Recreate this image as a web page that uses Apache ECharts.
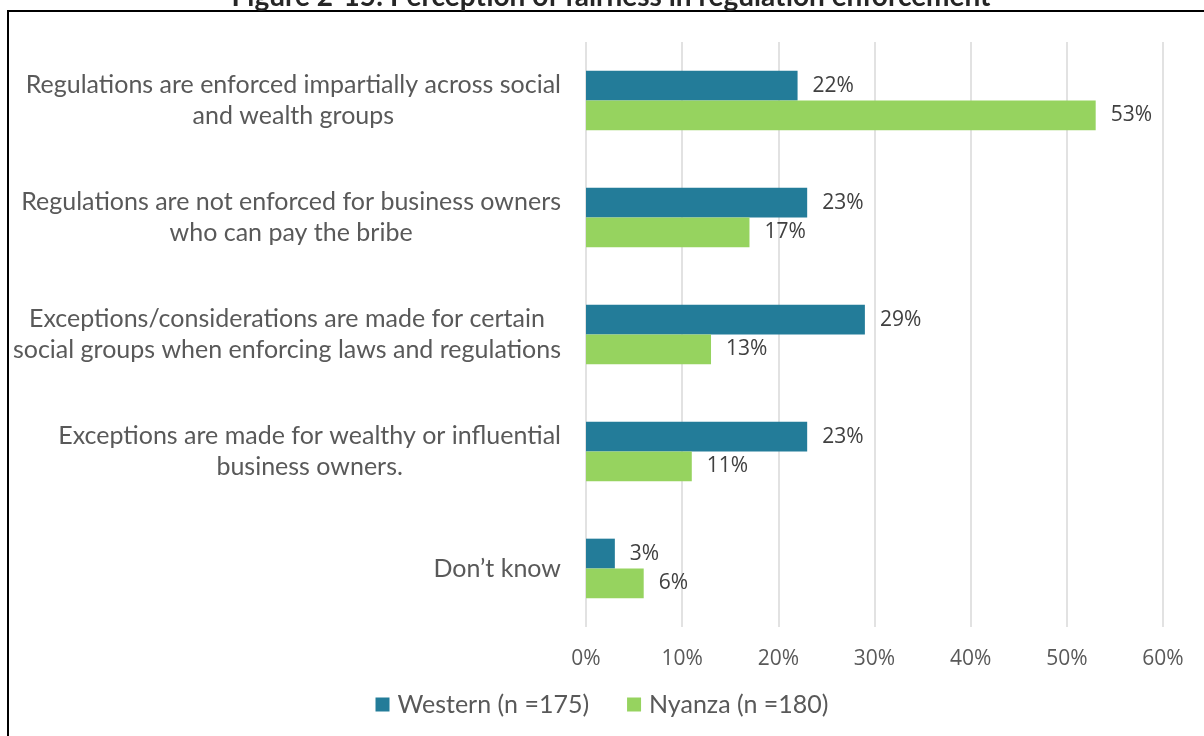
<!DOCTYPE html>
<html>
<head>
<meta charset="utf-8">
<script src="https://cdn.jsdelivr.net/npm/echarts@6/dist/echarts.min.js"></script>
<style>
  html, body { margin: 0; padding: 0; background: #fff; }
  #chart { width: 1204px; height: 736px; }
</style>
</head>
<body>
<div id="chart"></div>
<script>
// Survey statements (top to bottom)
const categories = [
  "Regulations are enforced impartially across social\nand wealth groups",
  "Regulations are not enforced for business owners\nwho can pay the bribe",
  "Exceptions/considerations are made for certain\nsocial groups when enforcing laws and regulations",
  "Exceptions are made for wealthy or influential\nbusiness owners.",
  "Don\u2019t know"
];
const seriesNames = ["Western (n =175)", "Nyanza (n =180)"];
const western = [22, 23, 29, 23, 3];
const nyanza = [53, 17, 13, 11, 6];
const titleText = "Figure 2-15: Perception of fairness in regulation enforcement";

const labelFont = "Lato, 'Open Sans', sans-serif";
const numFont = "'Open Sans', Lato, sans-serif";

const chart = echarts.init(document.getElementById('chart'));
chart.setOption({
  animation: false,
  backgroundColor: '#ffffff',
  color: ['#237C99', '#96D35F'],
  graphic: [
    {
      type: 'rect',
      shape: { x: 8, y: 11, width: 1400, height: 900 },
      style: { fill: 'none', stroke: '#000', lineWidth: 2 },
      silent: true
    },
    {
      // title sits above the frame, mostly outside the page top
      type: 'text',
      x: 611,
      y: -17,
      style: {
        text: titleText,
        font: "bold 28px " + labelFont,
        fill: '#262626',
        textAlign: 'center'
      }
    }
  ],
  grid: { left: 586, right: 41, top: 42, bottom: 109, containLabel: false },
  legend: {
    bottom: 14,
    left: 'center',
    itemWidth: 14,
    itemHeight: 14,
    itemGap: 38,
    icon: 'rect',
    textStyle: { fontFamily: labelFont, fontSize: 25, color: '#595959', padding: [0, 0, 0, 3] },
    data: seriesNames
  },
  xAxis: {
    type: 'value',
    min: 0, max: 60, interval: 10,
    axisLine: { show: false },
    axisTick: { show: false },
    splitLine: { lineStyle: { color: '#D9D9D9', width: 1.5 } },
    axisLabel: {
      formatter: '{value}%',
      margin: 22,
      fontFamily: numFont,
      fontSize: 21,
      color: '#595959'
    }
  },
  yAxis: {
    type: 'category',
    inverse: true,
    data: categories,
    axisLine: { show: false },
    axisTick: { show: false },
    axisLabel: {
      margin: 25,
      align: 'right',
      formatter: function (v) {
        return v.split('\n').map(function (s) { return '{c|' + s + '}'; }).join('\n');
      },
      rich: {
        c: { align: 'center', fontFamily: labelFont, fontSize: 25, color: '#595959', lineHeight: 31 }
      }
    }
  },
  series: [
    {
      name: seriesNames[0],
      type: 'bar',
      data: western,
      barGap: '0%',
      barCategoryGap: '49%',
      label: {
        show: true, position: 'right', distance: 15,
        formatter: '{c}%', fontFamily: numFont, fontSize: 21, color: '#404040'
      }
    },
    {
      name: seriesNames[1],
      type: 'bar',
      data: nyanza,
      barGap: '0%',
      barCategoryGap: '49%',
      label: {
        show: true, position: 'right', distance: 15,
        formatter: '{c}%', fontFamily: numFont, fontSize: 21, color: '#404040'
      }
    }
  ]
});
</script>
</body>
</html>
